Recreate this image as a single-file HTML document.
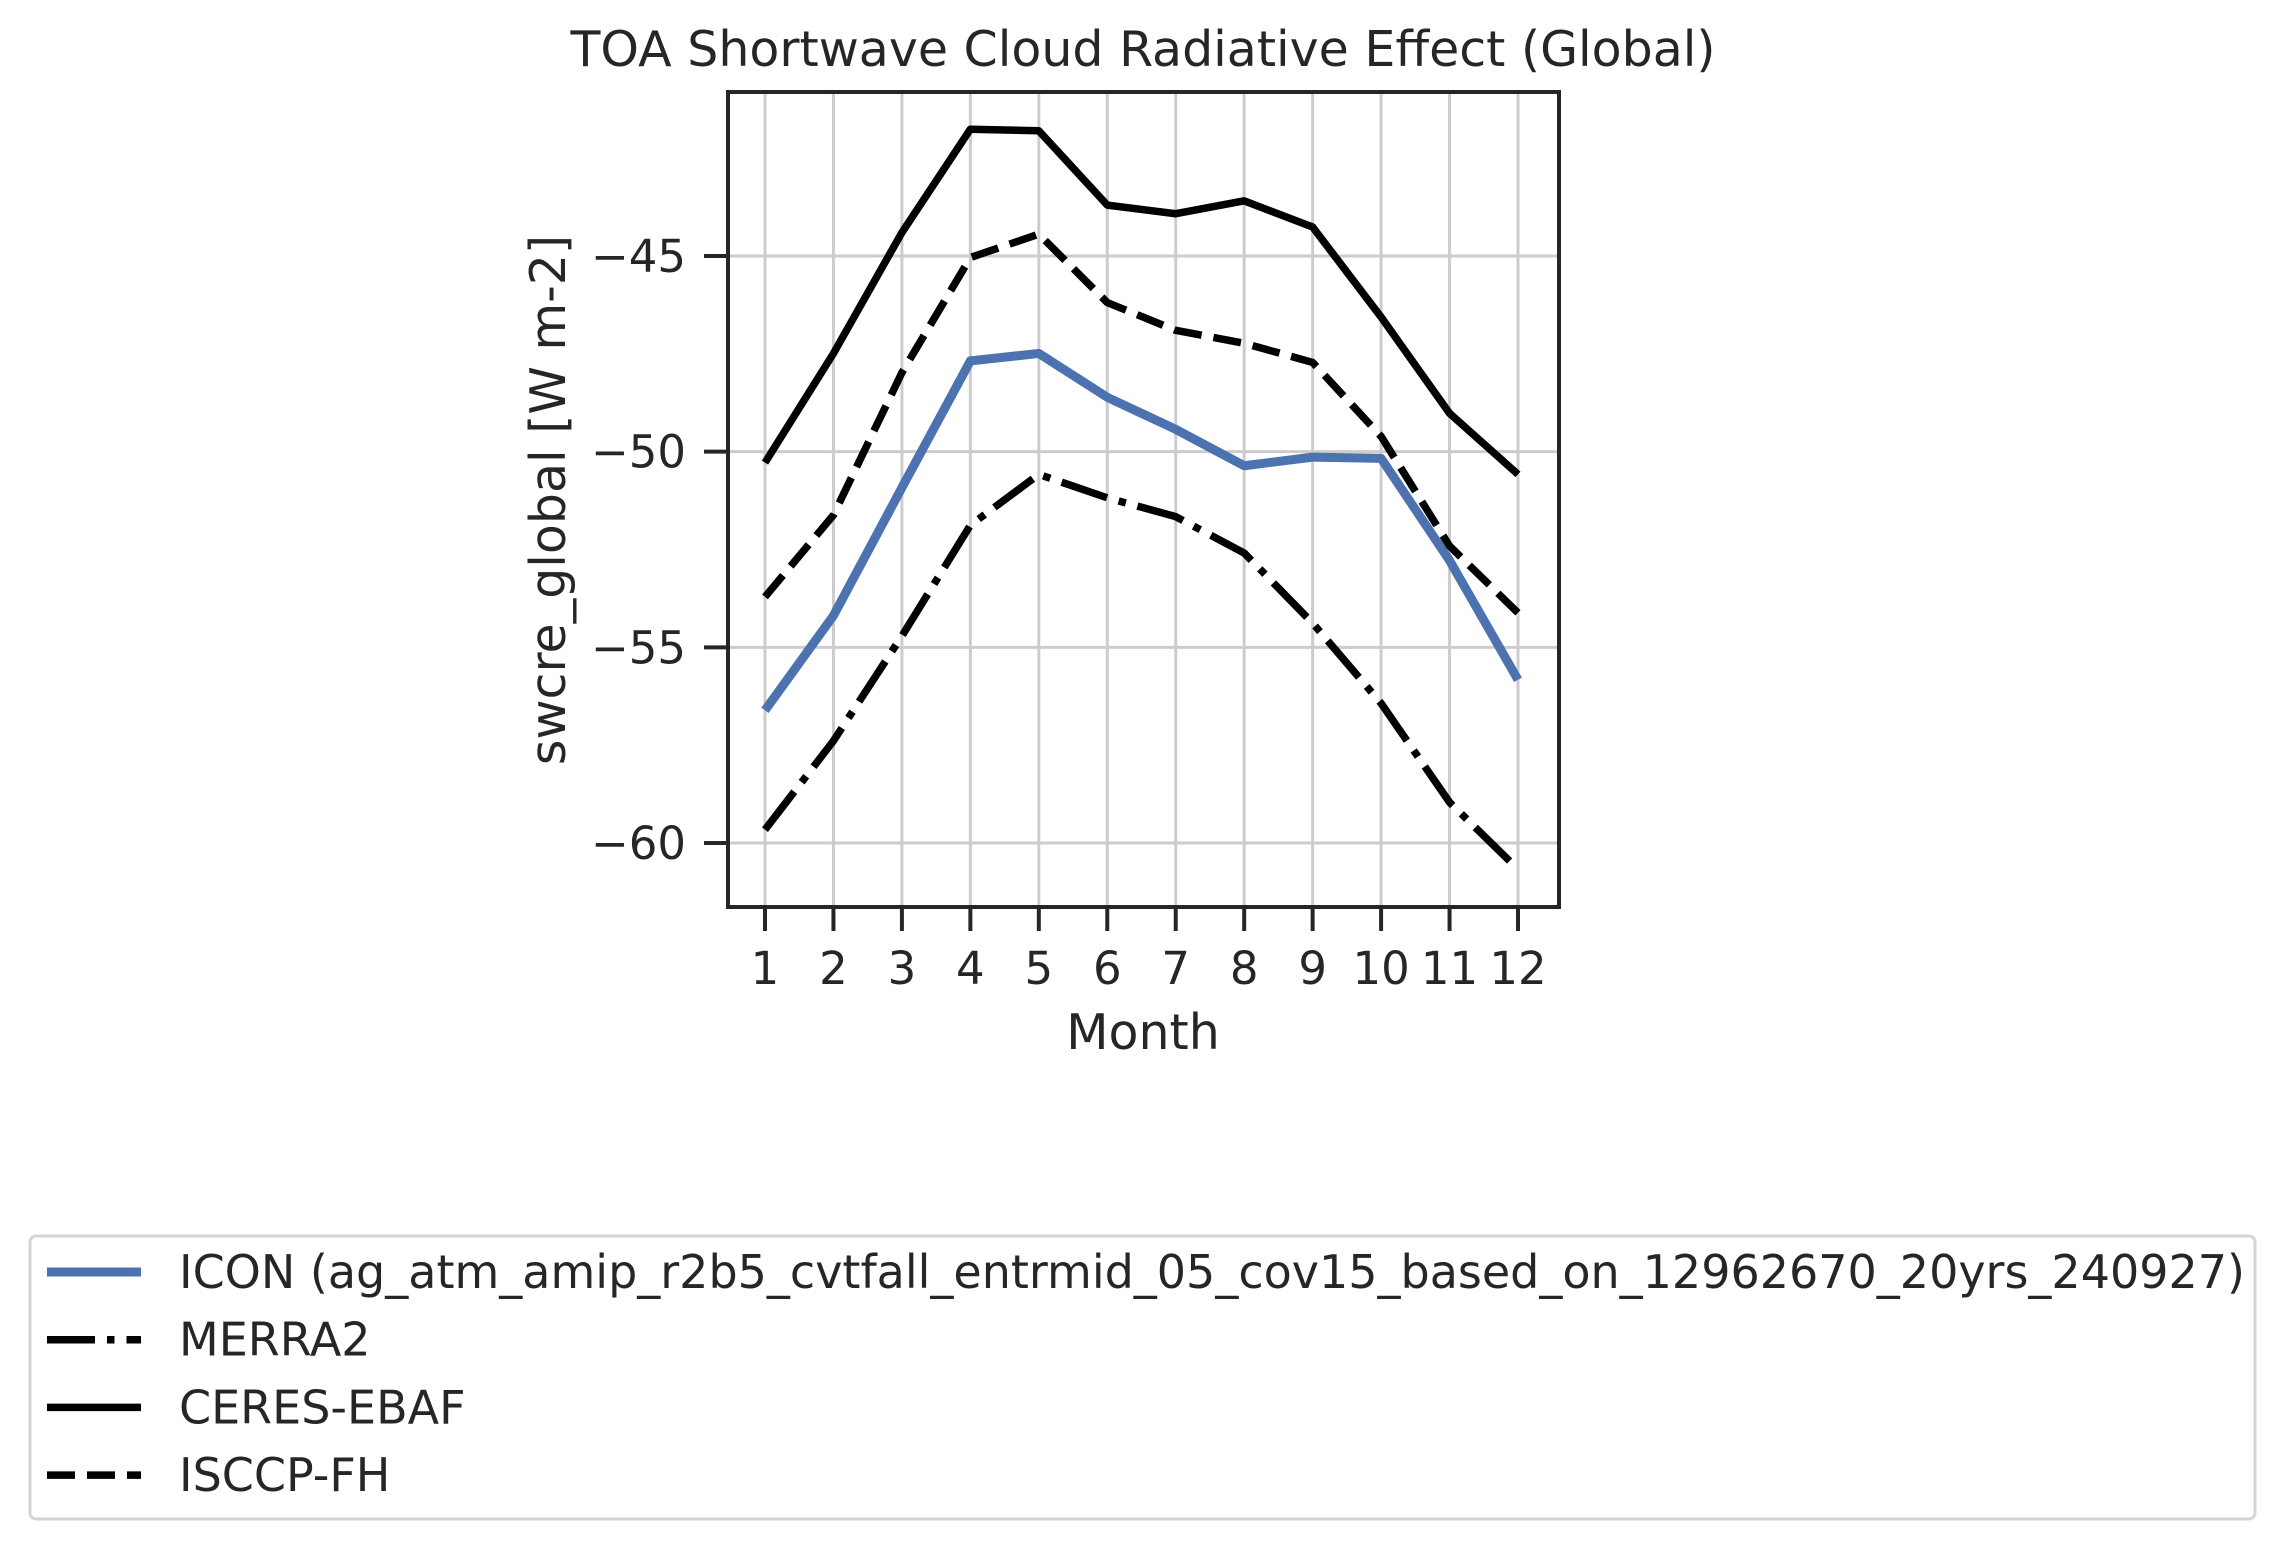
<!DOCTYPE html>
<html><head><meta charset="utf-8"><style>
html,body{margin:0;padding:0;background:#fff;}
svg{display:block;font-family:"DejaVu Sans","Liberation Sans",sans-serif;}
</style></head><body>
<svg id="chart" width="2284" height="1552" xmlns="http://www.w3.org/2000/svg">
<text x="1143" y="66" font-size="49" text-anchor="middle" fill="#262626">TOA Shortwave Cloud Radiative Effect (Global)</text>
<g id="grid"></g>
<g id="series"></g>
<rect x="728" y="92" width="831" height="815" fill="none" stroke="#262626" stroke-width="4"/>
<g id="ticks"></g>
<text x="1143" y="1049" font-size="49" text-anchor="middle" fill="#262626">Month</text>
<text transform="translate(565,500) rotate(-90)" font-size="49" text-anchor="middle" fill="#262626">swcre_global [W m-2]</text>
<g>
<rect x="30" y="1236" width="2225" height="283" rx="6" fill="#fff" stroke="#d5d5d5" stroke-width="3"/>
<g id="legend-items"></g>
</g>
</svg>
<script>
const months = [1,2,3,4,5,6,7,8,9,10,11,12];
const icon = [-56.61,-54.19,-50.92,-47.68,-47.49,-48.61,-49.43,-50.36,-50.14,-50.17,-52.78,-55.83];
const merra2 = [-59.66,-57.39,-54.71,-51.88,-50.58,-51.18,-51.66,-52.59,-54.38,-56.43,-58.96,-60.67];
const ceres = [-50.28,-47.49,-44.40,-41.76,-41.80,-43.70,-43.92,-43.59,-44.26,-46.56,-49.02,-50.58];
const isccp = [-53.71,-51.62,-47.98,-45.04,-44.44,-46.19,-46.90,-47.23,-47.72,-49.61,-52.41,-54.12];
const yTicks = [-45,-50,-55,-60];
const yTickLabels = ["\u221245","\u221250","\u221255","\u221260"];
const seriesNames = ["ICON (ag_atm_amip_r2b5_cvtfall_entrmid_05_cov15_based_on_12962670_20yrs_240927)","MERRA2","CERES-EBAF","ISCCP-FH"];

const NS="http://www.w3.org/2000/svg";
function xs(m){return 765+(m-1)*(1518-765)/11;}
function ys(v){return 256+(-45-v)*(843-256)/15;}
function mk(tag,attrs,parent){const e=document.createElementNS(NS,tag);for(const k in attrs)e.setAttribute(k,attrs[k]);parent.appendChild(e);return e;}
const grid=document.getElementById('grid'),ticks=document.getElementById('ticks'),ser=document.getElementById('series'),leg=document.getElementById('legend-items');
months.forEach(m=>{
  const g=mk('line',{x1:xs(m),x2:xs(m),y1:92,y2:907,stroke:'#cccccc','stroke-width':3},grid);
  
  
  const t=mk('line',{x1:xs(m),x2:xs(m),y1:907,y2:931,stroke:'#262626','stroke-width':4},ticks);
  
  
  const l=mk('text',{x:xs(m),y:984,'font-size':45,'text-anchor':'middle',fill:'#262626'},ticks);
  l.textContent=m;
  
  
});
yTicks.forEach((v,i)=>{
  const g=mk('line',{x1:728,x2:1559,y1:ys(v),y2:ys(v),stroke:'#cccccc','stroke-width':3},grid);
  
  
  const t=mk('line',{x1:704,x2:728,y1:ys(v),y2:ys(v),stroke:'#262626','stroke-width':4},ticks);
  
  
  const l=mk('text',{x:686,y:ys(v)+16,'font-size':45,'text-anchor':'end',fill:'#262626'},ticks);
  l.textContent=yTickLabels[i];
  
  
});
const styles=[
  {data:icon,color:'#4c72b0',w:9,dash:'',name:'line-icon'},
  {data:merra2,color:'#000',w:7.5,dash:'48 12 7.5 12',name:'line-merra2'},
  {data:ceres,color:'#000',w:7.5,dash:'',name:'line-ceres-ebaf'},
  {data:isccp,color:'#000',w:7.5,dash:'28 12',name:'line-isccp-fh'}
];
styles.forEach((s,i)=>{
  const p=mk('polyline',{points:s.data.map((v,j)=>xs(months[j])+','+ys(v)).join(' '),fill:'none',stroke:s.color,'stroke-width':s.w,'stroke-dasharray':s.dash,'stroke-linejoin':'round'},ser);
  
  
  const y=1272+i*67.7;
  const h=mk('line',{x1:47,x2:141,y1:y,y2:y,stroke:s.color,'stroke-width':s.w,'stroke-dasharray':s.dash},leg);
  
  
  const t=mk('text',{x:179,y:y+16,'font-size':46,fill:'#262626'},leg);
  t.textContent=seriesNames[i];
  
  
});
</script>
</body></html>
